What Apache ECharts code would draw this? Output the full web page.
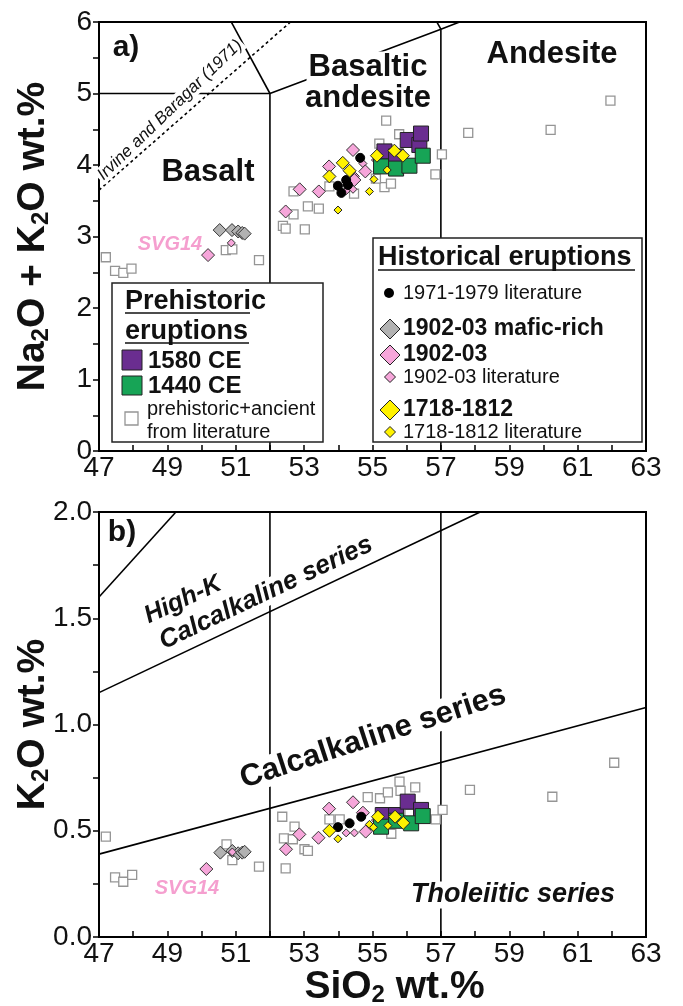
<!DOCTYPE html>
<html>
<head>
<meta charset="utf-8">
<script src="https://cdn.jsdelivr.net/npm/echarts@6/dist/echarts.min.js"></script>
<style>
  html, body { margin: 0; padding: 0; background: #fff; }
  #chart { width: 683px; height: 1006px; }
</style>
</head>
<body>
<div id="chart"></div>
<script>
// ---- panel a) TAS : [SiO2, Na2O+K2O] ----
const tasLit = [[47.2,2.71],[47.47,2.52],[47.71,2.49],[47.95,2.55],[50.71,2.81],[50.9,2.82],[51.68,2.67],
  [52.38,3.15],[52.46,3.11],[52.69,3.31],[52.69,3.63],[53.02,3.1],[53.11,3.42],[53.43,3.39],[53.74,3.7],
  [54.46,3.6],[55.35,3.69],[55.54,3.74],[55.1,3.81],[55.4,4.62],[55.2,4.3],[55.78,4.43],[57.03,4.15],
  [56.84,3.87],[57.8,4.45],[60.21,4.49],[61.96,4.9]];
const tasMafic = [[50.53,3.09],[50.89,3.09],[51.07,3.07],[51.19,3.05],[51.26,3.04]];
const tas1902 = [[50.19,2.74],[52.46,3.35],[52.87,3.66],[53.43,3.63],[53.73,3.98],[54.43,4.21],[54.47,3.79],[54.79,3.91],[55.16,4.07]];
const tas1902Lit = [[50.87,2.91],[54.23,3.64],[54.43,3.66],[54.5,3.84],[54.72,4.02]];
const tas1971Lit = [[53.99,3.71],[54.09,3.61],[54.23,3.79],[54.28,3.72],[54.64,4.1]];
const tas1580 = [[55.35,4.19],[55.69,4.12],[56.03,4.35],[56.37,4.28],[56.42,4.44]];
const tas1440 = [[55.25,3.98],[55.69,3.95],[56.08,3.99],[56.47,4.13]];
const tas1718 = [[53.74,3.84],[54.13,4.03],[54.33,3.92],[55.13,4.13],[55.64,4.2],[55.89,4.13]];
const tas1718Lit = [[53.99,3.37],[54.91,3.63],[55.04,3.8],[55.43,3.93]];

// ---- panel b) K2O : [SiO2, K2O] ----
const kLit = [[47.2,0.472],[47.47,0.281],[47.71,0.26],[47.97,0.292],[50.73,0.436],[50.9,0.362],[51.68,0.331],
  [52.36,0.566],[52.72,0.519],[52.41,0.464],[52.67,0.46],[53.01,0.413],[53.11,0.405],[52.46,0.323],
  [53.74,0.554],[54.04,0.554],[54.86,0.658],[55.22,0.653],[55.45,0.681],[55.79,0.731],[55.82,0.688],
  [56.25,0.704],[57.85,0.692],[60.26,0.66],[62.07,0.82],[57.05,0.598],[56.85,0.554],[55.55,0.486],[56.08,0.58]];
const kMafic = [[50.55,0.397],[50.9,0.405],[51.07,0.394],[51.19,0.397],[51.26,0.401]];
const k1902 = [[50.14,0.32],[52.47,0.413],[52.86,0.483],[53.42,0.467],[53.73,0.604],[54.43,0.634],[54.72,0.585],[54.8,0.496],[55.16,0.55]];
const k1902Lit = [[50.9,0.4],[54.23,0.49],[54.47,0.49],[54.91,0.52],[55.2,0.535]];
const k1971Lit = [[53.99,0.517],[54.33,0.535],[54.67,0.566]];
const k1580 = [[55.3,0.574],[55.69,0.574],[56.03,0.637],[56.42,0.598]];
const k1440 = [[55.25,0.519],[55.69,0.547],[56.13,0.535],[56.47,0.569]];
const k1718 = [[53.74,0.5],[55.16,0.566],[55.66,0.566],[55.9,0.537]];
const k1718Lit = [[53.99,0.462],[54.91,0.53],[55.03,0.516],[55.45,0.524]];

// field boundaries
const tasLines = [
  [[47,5],[52,5]], [[52,0],[52,5]], [[52,5],[57,5.9],[63,7]], [[57,0],[57,5.9]],
  [[52,5],[49.4,7.3]], [[57,5.9],[53,9.3]]
];
const irvineLine = [[47,3.65],[52.6,6]];
const kLines = [
  [[47,0.39],[63,1.08]], [[47,1.15],[58.15,2.0]], [[47,1.6],[49.25,2.0]],
  [[52,0],[52,2]], [[57,0],[57,2]]
];

const xTicks = [47, 49, 51, 53, 55, 57, 59, 61, 63];

const C = {
  purple: '#6a2d90', green: '#17a456', yellow: '#fff200', pink: '#f6a6da',
  gray: '#b2b2b2', lit: '#959595', svg: '#f59fcf'
};
const FONT = '"Liberation Sans", Arial, sans-serif';

function pts(name, data, gi, symbol, size, color, border, z) {
  return {
    name, type: 'scatter', xAxisIndex: gi, yAxisIndex: gi, data, symbol, symbolSize: size, z,
    itemStyle: { color, borderColor: border, borderWidth: border === C.lit ? 1.3 : 1, opacity: 1 },
    silent: true, animation: false
  };
}
function lines(data, gi, dashed) {
  return data.map(d => ({
    type: 'line', xAxisIndex: gi, yAxisIndex: gi, data: d, symbol: 'none', silent: true,
    animation: false, z: 1, clip: true,
    lineStyle: { color: '#000', width: 1.6, type: dashed ? [3, 3] : 'solid' }
  }));
}
function panel(gi, lit, mafic, p1902, p1902l, p1971, p1580, p1440, p1718, p1718l) {
  return [
    pts('lit', lit, gi, 'rect', 9, '#fff', C.lit, 3),
    pts('mafic', mafic, gi, 'diamond', 13, C.gray, '#333', 4),
    pts('1902lit', p1902l, gi, 'diamond', 8, C.pink, '#333', 5),
    pts('1902', p1902, gi, 'diamond', 13, C.pink, '#333', 5),
    pts('1971', p1971, gi, 'circle', 9, '#000', '#000', 6),
    pts('1580', p1580, gi, 'rect', 15, C.purple, '#222', 7),
    pts('1440', p1440, gi, 'rect', 15, C.green, '#222', 8),
    pts('1718lit', p1718l, gi, 'diamond', 8, C.yellow, '#222', 9),
    pts('1718', p1718, gi, 'diamond', 13, C.yellow, '#222', 9)
  ];
}

const tickFont = { fontFamily: FONT, fontSize: 28, color: '#111' };
const nameRich = {
  b: { fontFamily: FONT, fontSize: 39, fontWeight: 'bold', color: '#111', lineHeight: 44, verticalAlign: 'bottom' },
  s: { fontFamily: FONT, fontSize: 24, fontWeight: 'bold', color: '#111', lineHeight: 24, verticalAlign: 'bottom' }
};
function xAxis(gi, name) {
  return {
    type: 'value', gridIndex: gi, min: 47, max: 63, interval: 1,
    axisLine: { lineStyle: { color: '#000', width: 2 } },
    axisTick: { inside: true, length: 6, lineStyle: { color: '#000', width: 1.5 } },
    axisLabel: Object.assign({ margin: 3, formatter: v => xTicks.includes(v) ? String(v) : '' }, tickFont),
    splitLine: { show: false },
    name: name || '', nameLocation: 'middle', nameGap: 26, nameMoveOverlap: false,
    nameTextStyle: { padding: [0, 0, 0, 44], rich: nameRich }
  };
}
function yAxis(gi, max, step, fmt, name) {
  return {
    type: 'value', gridIndex: gi, min: 0, max, interval: step,
    axisLine: { lineStyle: { color: '#000', width: 2 } },
    axisTick: { inside: false, length: 6, lineStyle: { color: '#000', width: 1.5 } },
    axisLabel: Object.assign({ margin: 7, formatter: fmt }, tickFont),
    splitLine: { show: false },
    name, nameLocation: 'middle', nameGap: 46, nameRotate: 90, nameMoveOverlap: false,
    nameTextStyle: { rich: nameRich }
  };
}

// ---- text + legends (pixel layout) ----
function txt(text, x, y, size, opt) {
  opt = opt || {};
  return {
    type: 'text', x, y, rotation: (opt.rot || 0) * Math.PI / 180, z: 50,
    style: {
      text, fill: opt.color || '#111', align: opt.align || 'center', verticalAlign: 'middle',
      font: (opt.italic ? 'italic ' : '') + (opt.bold === false ? 'normal ' : 'bold ') + size + 'px ' + FONT,
      backgroundColor: opt.bg ? '#fff' : null, padding: opt.bg ? [0, 2] : 0
    }
  };
}
function diamond(cx, cy, s, fill) {
  return { type: 'polygon', z: 60, shape: { points: [[cx, cy - s / 2], [cx + s / 2, cy], [cx, cy + s / 2], [cx - s / 2, cy]] },
    style: { fill, stroke: '#222', lineWidth: 1 } };
}
function box(x, y, w, h, fill, stroke, lw) {
  return { type: 'rect', z: 55, shape: { x, y, width: w, height: h }, style: { fill, stroke, lineWidth: lw || 1 } };
}
function uline(x1, x2, y) {
  return { type: 'line', z: 60, shape: { x1, y1: y, x2, y2: y }, style: { stroke: '#111', lineWidth: 1.5 } };
}
const leg = (text, x, y, size, bold) => Object.assign(txt(text, x, y, size, { align: 'left', bold }), { z: 60 });

const graphics = [
  txt('a)', 126, 48, 30),
  txt('Basalt', 208, 172, 31),
  txt('Basaltic', 368, 67, 31, { bg: true }),
  txt('andesite', 368, 98, 31, { bg: true }),
  txt('Andesite', 552, 54, 31),
  txt('Irvine and Baragar (1971)', 170, 110, 17, { rot: 44, italic: true, bold: false, bg: true }),
  txt('SVG14', 170, 244, 20, { italic: true, color: C.svg }),
  // prehistoric legend
  box(112, 283, 211, 159, '#fff', '#222', 1.5),
  leg('Prehistoric', 125, 302, 27), uline(125, 250, 313),
  leg('eruptions', 125, 332, 27), uline(125, 249, 343),
  box(122, 350, 20, 20, C.purple, '#222'), leg('1580 CE', 148, 361, 24),
  box(122, 376, 20, 19, C.green, '#222'), leg('1440 CE', 148, 386, 24),
  box(125, 412, 13, 13, '#fff', C.lit, 1.3),
  leg('prehistoric+ancient', 147, 409, 20, false),
  leg('from literature', 147, 432, 20, false),
  // historical legend
  box(373, 238, 269, 204, '#fff', '#222', 1.5),
  leg('Historical eruptions', 378, 258, 27), uline(378, 635, 270),
  { type: 'circle', z: 60, shape: { cx: 389, cy: 293, r: 5 }, style: { fill: '#000' } },
  leg('1971-1979 literature', 403, 293, 20, false),
  diamond(390, 329, 20, C.gray), leg('1902-03 mafic-rich', 403, 329, 23),
  diamond(390, 355, 20, C.pink), leg('1902-03', 403, 355, 23),
  diamond(390, 377, 11, C.pink), leg('1902-03 literature', 403, 377, 20, false),
  diamond(390, 410, 20, C.yellow), leg('1718-1812', 403, 410, 23),
  diamond(390, 432, 11, C.yellow), leg('1718-1812 literature', 403, 432, 20, false),
  // panel b labels
  txt('b)', 122, 533, 30),
  txt('High-K', 183, 600, 25, { rot: 25, italic: true, bg: true }),
  txt('Calcalkaline series', 266, 593, 26, { rot: 25.4, italic: true, bg: true }),
  txt('Calcalkaline series', 373, 737, 31, { rot: 18, bg: true }),
  txt('Tholeiitic series', 513, 895, 27, { italic: true, bg: true }),
  txt('SVG14', 187, 888, 20, { italic: true, color: C.svg })
];

const chart = echarts.init(document.getElementById('chart'), null, { renderer: 'canvas' });
chart.setOption({
  backgroundColor: '#fff',
  animation: false,
  grid: [
    { left: 99, right: 37, top: 22, height: 429, show: true, borderColor: '#000', borderWidth: 2,
      containLabel: false, outerBoundsMode: 'none' },
    { left: 99, right: 37, top: 512, height: 425, show: true, borderColor: '#000', borderWidth: 2,
      containLabel: false, outerBoundsMode: 'none' }
  ],
  xAxis: [xAxis(0), xAxis(1, '{b|SiO}{s|2}{b| wt.%}')],
  yAxis: [
    yAxis(0, 6, 0.5, v => Number.isInteger(v) ? String(v) : '', '{b|Na}{s|2}{b|O + K}{s|2}{b|O wt.%}'),
    yAxis(1, 2, 0.25, v => (Math.round(v * 4) % 2 === 0) ? v.toFixed(1) : '', '{b|K}{s|2}{b|O wt.%}')
  ],
  series: [].concat(
    lines(tasLines, 0), lines([irvineLine], 0, true), lines(kLines, 1),
    panel(0, tasLit, tasMafic, tas1902, tas1902Lit, tas1971Lit, tas1580, tas1440, tas1718, tas1718Lit),
    panel(1, kLit, kMafic, k1902, k1902Lit, k1971Lit, k1580, k1440, k1718, k1718Lit)
  ),
  graphic: graphics
});
</script>
</body>
</html>
